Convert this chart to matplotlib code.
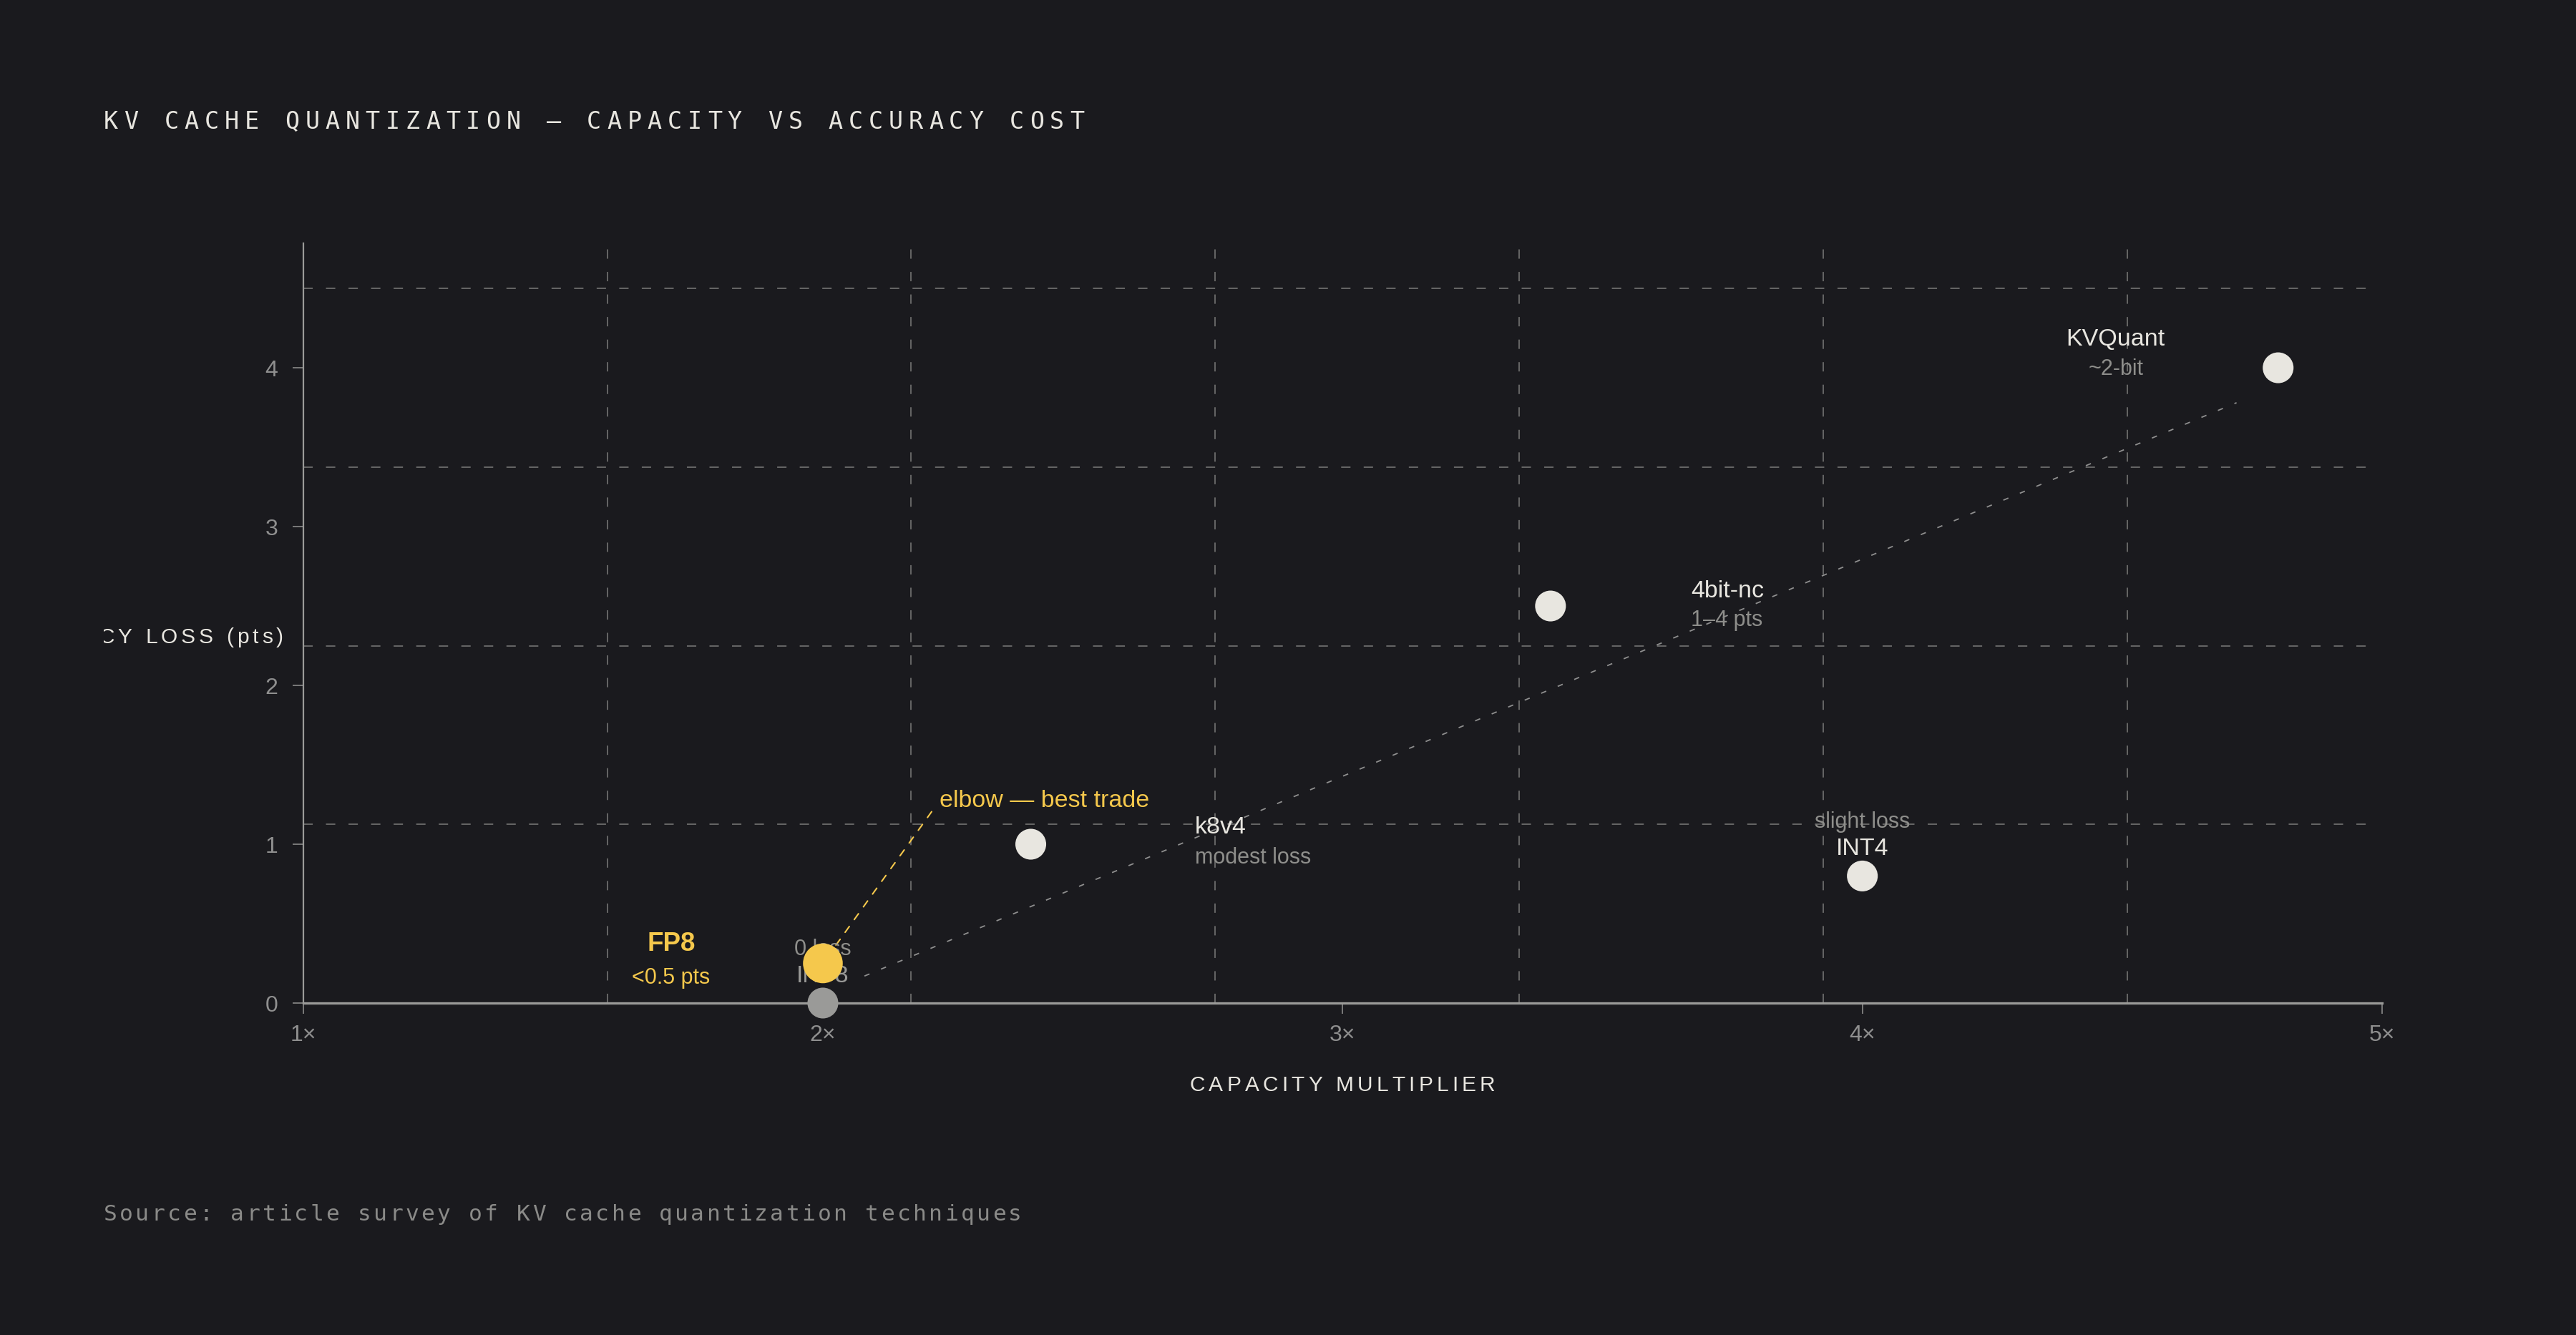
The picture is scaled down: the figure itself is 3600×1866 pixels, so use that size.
import matplotlib
matplotlib.use("Agg")
import matplotlib.pyplot as plt
from matplotlib.patches import Rectangle

# ---- data ----
names = ["INT8", "FP8", "k8v4", "4bit-nc", "INT4", "KVQuant"]
notes = ["0 loss", "<0.5 pts", "modest loss", "1–4 pts", "slight loss", "~2-bit"]
capacity = [2.0, 2.0, 2.4, 3.4, 4.0, 4.8]
acc_loss = [0.0, 0.25, 1.0, 2.5, 0.8, 4.0]

# dotted trend line drawn across the cloud
trend_x = [2.08, 4.72]
trend_y = [0.17, 3.78]

x_ticks = [1, 2, 3, 4, 5]
x_tick_labels = ["1×", "2×", "3×", "4×", "5×"]
y_ticks = [0, 1, 2, 3, 4]

title = "KV CACHE QUANTIZATION — CAPACITY VS ACCURACY COST"
x_label = "CAPACITY MULTIPLIER"
y_label = "ACCURACY LOSS (pts)"
source = "Source: article survey of KV cache quantization techniques"
elbow_note = "elbow — best trade"

# ---- style ----
BG = "#1a1a1e"
WHITE = "#e8e6e0"
GREY = "#9a9a98"
DIM = "#8e8e8b"
YELLOW = "#f5c84c"
GRID = "#6c6c6c"
SANS = "Liberation Sans"
MONO = "DejaVu Sans Mono"

plt.rcParams["lines.scale_dashes"] = False

dot_colors = [GREY, YELLOW, WHITE, WHITE, WHITE, WHITE]
dot_sizes = [31, 40, 31, 31, 31, 31]           # marker diameter, points
name_colors = [GREY, YELLOW, WHITE, WHITE, WHITE, WHITE]
note_colors = [DIM, YELLOW, DIM, DIM, DIM, DIM]
name_sizes = [24.5, 26.5, 24.5, 24.5, 24.5, 24.5]
name_weights = ["normal", "bold", "normal", "normal", "normal", "normal"]
note_size = 22
# label offsets in pixels from the dot: dx, dy name, dy note, alignment
label_pos = [
    (0, 38, 75, "center"),
    (-212, 27, -20, "center"),
    (229, 24, -19, "left"),
    (196, 21, -20, "left"),
    (0, 38, 75, "center"),
    (-227, 40, -2, "center"),
]

W, H = 3600, 1866
fig = plt.figure(figsize=(W / 100, H / 100), dpi=100, facecolor=BG)
ax = fig.add_axes([0.11768, 0.24866, 0.80704, 0.56924])
ax.set_facecolor(BG)
ax.set_xlim(1, 5)
ax.set_ylim(0, 4.785)

# background grid (fixed spacing pattern, not tied to ticks)
dash = (0, (9.4, 13.3))
for k in range(1, 7):
    ax.axvline(1 + 0.585 * k, color=GRID, lw=1.3, ls=dash, zorder=0)
for k in range(1, 5):
    ax.axhline(1.125 * k, xmax=0.996, color=GRID, lw=1.3, ls=dash, zorder=0)

# trend line
ax.plot(trend_x, trend_y, color="#8f8f8f", lw=1.3, ls=(0, (5.5, 12.5)), zorder=1)

# dots
ax.scatter(capacity, acc_loss, s=[d ** 2 for d in dot_sizes], c=dot_colors,
           edgecolors="none", zorder=5, clip_on=False)

# point labels
for i in range(len(names)):
    dx, dy_name, dy_note, ha = label_pos[i]
    xy = (capacity[i], acc_loss[i])
    ax.annotate(names[i], xy, xytext=(dx, dy_name), textcoords="offset pixels",
                ha=ha, va="center", color=name_colors[i], fontsize=name_sizes[i],
                fontweight=name_weights[i], family=SANS, zorder=3)
    ax.annotate(notes[i], xy, xytext=(dx, dy_note), textcoords="offset pixels",
                ha=ha, va="center", color=note_colors[i], fontsize=note_size,
                family=SANS, zorder=3)

# elbow callout on FP8
fp8 = (capacity[1], acc_loss[1])
ax.annotate("", xy=fp8, xytext=(152, 212), textcoords="offset pixels",
            arrowprops=dict(arrowstyle="-", color=YELLOW, lw=1.5,
                            linestyle=(0, (7.2, 8.6)), shrinkA=0, shrinkB=15),
            zorder=2)
ax.annotate(elbow_note, fp8, xytext=(163, 227), textcoords="offset pixels",
            ha="left", va="center", color=YELLOW, fontsize=24.5, family=SANS)

# axes
for side in ["top", "right"]:
    ax.spines[side].set_visible(False)
ax.spines["left"].set_color("#9a9a98")
ax.spines["left"].set_linewidth(1.6)
ax.spines["bottom"].set_color("#9a9a98")
ax.spines["bottom"].set_linewidth(2.4)
ax.set_xticks(x_ticks)
ax.set_xticklabels(x_tick_labels)
ax.set_yticks(y_ticks)
ax.tick_params(axis="both", direction="out", length=10.8, width=1.2,
               color="#8a8a8a", labelcolor="#8f8f8f", labelsize=23)
ax.tick_params(axis="x", pad=11)
ax.tick_params(axis="y", pad=14.5)
for lab in ax.get_xticklabels() + ax.get_yticklabels():
    lab.set_family(SANS)

# letter-spaced text, one glyph at a time
renderer = fig.canvas.get_renderer()


def char_width(ch, **kw):
    t1 = fig.text(0, 0, "|" + ch + "|", **kw)
    t2 = fig.text(0, 0, "||", **kw)
    w = t1.get_window_extent(renderer).width - t2.get_window_extent(renderer).width
    t1.remove()
    t2.remove()
    return w


def spaced_text(x_px, y_frac, s, spacing, ha="left", clip_left=None, **kw):
    widths = [char_width(c, **kw) for c in s]
    total = sum(widths) + spacing * (len(s) - 1)
    x = x_px - {"left": 0, "center": total / 2, "right": total}[ha]
    for c, w in zip(s, widths):
        t = fig.text(x / W, y_frac, c, ha="left", va="center", **kw)
        if clip_left is not None:
            t.set_clip_path(Rectangle((clip_left / W, 0), 1, 1,
                                      transform=fig.transFigure))
        x += w + spacing


spaced_text(145, 0.9085, title, 8.0, family=MONO, fontsize=24, color=WHITE)
spaced_text(1876, 0.187, x_label, 5.2, ha="center", family=SANS,
            fontsize=21.5, color=WHITE)
spaced_text(396, 0.5225, y_label, 5.0, ha="right", clip_left=145,
            family=SANS, fontsize=21.5, color=WHITE)
spaced_text(145, 0.0905, source, 3.3, family=MONO, fontsize=22.5, color="#8a8a88")

fig.savefig("out.png", dpi=100, facecolor=BG)
